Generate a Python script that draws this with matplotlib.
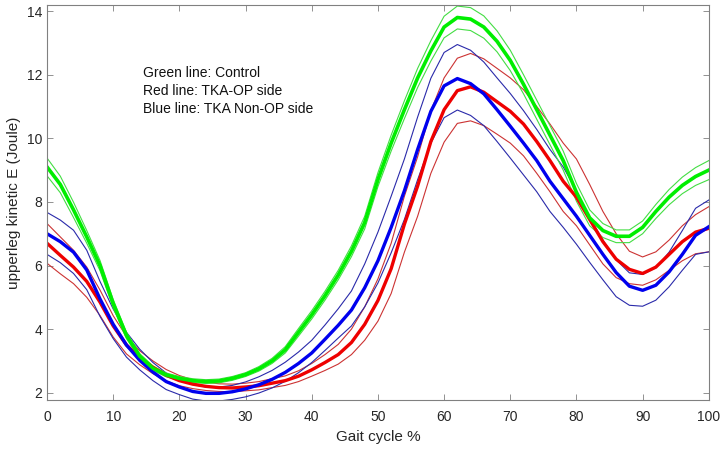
import matplotlib
matplotlib.use("Agg")
import matplotlib.pyplot as plt

plt.rcParams['font.family'] = ['Liberation Sans', 'DejaVu Sans']

# Gait cycle positions (%)
gait = [0, 2, 4, 6, 8, 10, 12, 14, 16, 18, 20, 22, 24, 26, 28, 30, 32, 34, 36, 38,
        40, 42, 44, 46, 48, 50, 52, 54, 56, 58, 60, 62, 64, 66, 68, 70, 72, 74, 76, 78,
        80, 82, 84, 86, 88, 90, 92, 94, 96, 98, 100]

# Control (green): mean, upper, lower
ctrl_mean = [9.10, 8.55, 7.75, 6.90, 6.00, 4.80, 3.80, 3.15, 2.77, 2.56, 2.45, 2.38, 2.35, 2.37, 2.45, 2.57, 2.75,
             3.00, 3.35, 3.90, 4.45, 5.05, 5.70, 6.45, 7.35, 8.70, 9.85, 10.90, 11.90, 12.75, 13.50, 13.80, 13.75,
             13.50, 13.05, 12.45, 11.70, 10.90, 10.10, 9.30, 8.30, 7.50, 7.10, 6.92, 6.92, 7.20, 7.70, 8.15, 8.52,
             8.80, 9.00]
ctrl_up = [9.38, 8.81, 7.99, 7.10, 6.16, 4.93, 3.90, 3.23, 2.84, 2.62, 2.51, 2.44, 2.41, 2.43, 2.51, 2.63, 2.82,
           3.08, 3.45, 4.02, 4.58, 5.19, 5.85, 6.62, 7.55, 8.92, 10.10, 11.18, 12.20, 13.07, 13.84, 14.16, 14.11,
           13.85, 13.38, 12.77, 12.00, 11.20, 10.40, 9.60, 8.58, 7.75, 7.32, 7.12, 7.12, 7.40, 7.92, 8.39, 8.78,
           9.08, 9.30]
ctrl_lo = [8.82, 8.29, 7.51, 6.70, 5.84, 4.67, 3.70, 3.07, 2.70, 2.50, 2.39, 2.32, 2.29, 2.31, 2.39, 2.51, 2.68,
           2.92, 3.25, 3.78, 4.32, 4.91, 5.55, 6.28, 7.15, 8.48, 9.60, 10.62, 11.60, 12.43, 13.16, 13.44, 13.39,
           13.15, 12.72, 12.13, 11.40, 10.60, 9.80, 9.00, 8.02, 7.25, 6.88, 6.72, 6.72, 7.00, 7.48, 7.91, 8.26,
           8.52, 8.70]

# TKA-OP side (red)
op_mean = [6.70, 6.32, 5.95, 5.50, 4.85, 4.10, 3.50, 3.10, 2.80, 2.55, 2.38, 2.27, 2.20, 2.16, 2.15, 2.18, 2.22,
           2.30, 2.38, 2.52, 2.72, 2.95, 3.20, 3.58, 4.15, 4.90, 5.90, 7.30, 8.50, 9.90, 10.90, 11.50, 11.62,
           11.45, 11.15, 10.85, 10.45, 9.90, 9.30, 8.65, 8.15, 7.45, 6.75, 6.20, 5.88, 5.75, 5.95, 6.35, 6.75,
           7.05, 7.17]
op_up = [7.32, 6.90, 6.48, 5.95, 5.23, 4.42, 3.77, 3.32, 3.00, 2.73, 2.54, 2.41, 2.33, 2.28, 2.27, 2.30, 2.35,
         2.44, 2.53, 2.69, 2.92, 3.20, 3.52, 4.00, 4.70, 5.58, 6.70, 8.18, 9.42, 10.87, 11.90, 12.52, 12.67,
         12.50, 12.20, 11.90, 11.53, 11.00, 10.45, 9.85, 9.35, 8.55, 7.70, 7.00, 6.45, 6.27, 6.43, 6.80, 7.25,
         7.60, 7.85]
op_lo = [6.07, 5.74, 5.43, 5.00, 4.43, 3.75, 3.22, 2.88, 2.60, 2.37, 2.22, 2.13, 2.07, 2.04, 2.03, 2.06, 2.09,
         2.16, 2.23, 2.35, 2.52, 2.70, 2.90, 3.20, 3.65, 4.25, 5.12, 6.42, 7.55, 8.90, 9.88, 10.47, 10.55,
         10.40, 10.13, 9.85, 9.45, 8.90, 8.32, 7.70, 7.25, 6.65, 6.05, 5.62, 5.43, 5.38, 5.55, 5.85, 6.15,
         6.37, 6.43]

# TKA Non-OP side (blue)
nonop_mean = [7.00, 6.75, 6.42, 5.86, 4.95, 4.15, 3.50, 3.02, 2.65, 2.35, 2.18, 2.04, 1.98, 1.98, 2.03, 2.12, 2.25,
              2.42, 2.64, 2.92, 3.25, 3.68, 4.12, 4.60, 5.30, 6.15, 7.20, 8.35, 9.65, 10.85, 11.65, 11.88, 11.72,
              11.40, 10.90, 10.38, 9.85, 9.30, 8.65, 8.10, 7.55, 6.95, 6.35, 5.78, 5.35, 5.22, 5.38, 5.80, 6.35,
              6.95, 7.22]
nonop_up = [7.67, 7.43, 7.11, 6.48, 5.50, 4.63, 3.90, 3.37, 2.95, 2.62, 2.43, 2.26, 2.18, 2.18, 2.23, 2.34, 2.50,
            2.70, 2.96, 3.28, 3.65, 4.13, 4.64, 5.20, 6.05, 7.05, 8.18, 9.35, 10.67, 11.89, 12.70, 12.95, 12.77,
            12.40, 11.90, 11.41, 10.87, 10.28, 9.65, 9.10, 8.35, 7.50, 6.80, 6.18, 5.77, 5.72, 5.93, 6.42, 7.10,
            7.80, 8.06]
nonop_lo = [6.35, 6.09, 5.75, 5.24, 4.40, 3.70, 3.12, 2.72, 2.38, 2.10, 1.94, 1.80, 1.74, 1.74, 1.79, 1.87, 1.99,
            2.15, 2.36, 2.63, 2.95, 3.33, 3.72, 4.10, 4.70, 5.45, 6.40, 7.45, 8.70, 9.85, 10.65, 10.89, 10.72,
            10.40, 9.90, 9.38, 8.85, 8.32, 7.70, 7.20, 6.67, 6.10, 5.55, 5.02, 4.75, 4.72, 4.91, 5.33, 5.85,
            6.35, 6.43]

notes = ["Green line: Control", "Red line: TKA-OP side", "Blue line: TKA Non-OP side"]

fig = plt.figure(figsize=(7.24, 4.51), dpi=100)
ax = fig.add_axes([0.065, 0.113, 0.914, 0.875])

# tenke krivky (odchylky)
ax.plot(gait, op_up, color="#cc3333", lw=0.8)
ax.plot(gait, op_lo, color="#cc3333", lw=0.8)
ax.plot(gait, nonop_up, color="#2a2aaa", lw=0.8)
ax.plot(gait, nonop_lo, color="#2a2aaa", lw=0.8)
ax.plot(gait, ctrl_up, color="#44dd44", lw=0.8)
ax.plot(gait, ctrl_lo, color="#44dd44", lw=0.8)

# prumery
ax.plot(gait, op_mean, color="#ee0000", lw=2.4)
ax.plot(gait, nonop_mean, color="#0000ee", lw=2.4)
ax.plot(gait, ctrl_mean, color="#00ee00", lw=2.6)

for i, s in enumerate(notes):
    ax.text(14.5, 12.04 - i * 0.56, s, fontsize=10, va="center", ha="left", color="#111111")

ax.set_xlim(0, 100)
ax.set_ylim(1.77, 14.18)
ax.set_xticks(range(0, 101, 10))
ax.set_yticks(range(2, 15, 2))
ax.tick_params(direction="in", top=True, right=True, labelsize=10, colors="#262626",
               length=4, width=0.6)
ax.tick_params(axis="x", pad=7.5)
ax.tick_params(axis="both", color="#808080")
for sp in ax.spines.values():
    sp.set_color("#808080")
    sp.set_linewidth(0.8)

ax.set_xlabel("Gait cycle %", fontsize=11, color="#262626")
ax.set_ylabel("upperleg kinetic E (Joule)", fontsize=11, color="#262626")

fig.savefig("out.png", dpi=100)
